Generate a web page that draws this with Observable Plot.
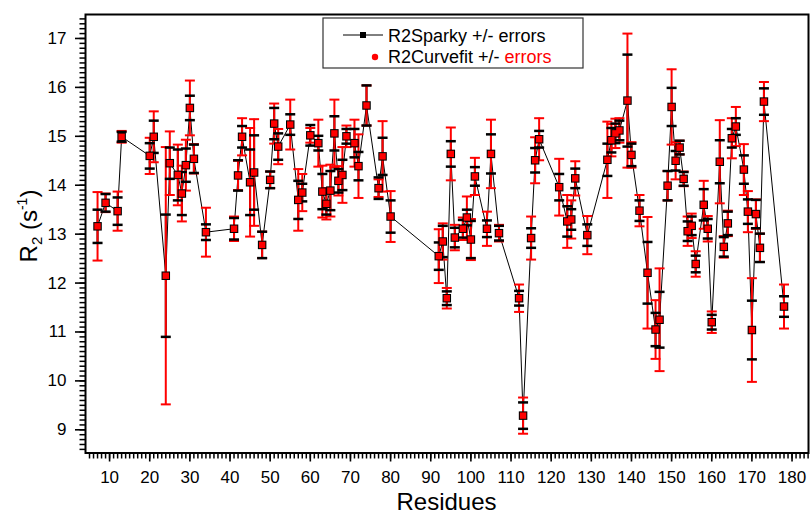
<!DOCTYPE html>
<html>
<head>
<meta charset="utf-8">
<script src="https://cdn.jsdelivr.net/npm/d3@7"></script>
<script src="https://cdn.jsdelivr.net/npm/@observablehq/plot@0.6"></script>
<style>
  html, body { margin: 0; padding: 0; background: #fff; }
  #chart { width: 810px; height: 514px; }
</style>
</head>
<body>
<div id="chart"></div>
<script>
const residues = [7,9,12,13,20,21,24,25,27,28,29,30,31,34,41,42,43,45,46,48,50,51,52,55,57,58,60,62,63,64,65,66,67,68,69,71,72,74,77,78,80,92,93,94,95,96,98,99,100,101,104,105,107,112,113,115,116,117,122,124,125,126,129,134,135,136,137,139,140,142,144,146,147,149,150,151,152,153,154,155,156,158,159,160,162,163,164,165,166,168,169,170,171,172,173,178];

const r2Sparky = [13.16,13.64,13.47,14.99,14.60,14.99,12.15,14.45,14.21,13.83,14.41,15.58,14.54,13.04,13.11,14.20,14.99,14.06,14.26,12.78,14.11,15.26,14.79,15.24,13.70,13.85,15.02,14.86,13.87,13.62,13.89,15.06,14.09,14.21,15.00,14.86,14.39,15.63,13.94,14.59,13.36,12.55,12.85,11.69,14.64,12.93,13.11,13.34,12.89,14.18,13.11,14.64,13.02,11.69,9.29,12.92,14.51,14.94,13.96,13.26,13.30,14.14,12.98,14.52,14.92,15.06,15.12,15.73,14.62,13.48,12.21,11.05,11.25,13.99,15.60,14.50,14.77,14.13,13.06,13.17,12.39,13.60,13.11,11.20,14.48,12.74,13.22,14.96,15.20,14.32,13.46,11.04,13.41,12.72,15.71,11.52];

const errSparky = [0.34,0.18,0.28,0.10,0.26,0.33,1.25,0.32,0.52,0.44,0.34,0.25,0.29,0.16,0.22,0.31,0.22,0.67,0.76,0.27,0.17,0.32,0.27,0.21,0.39,0.18,0.21,0.15,0.36,0.22,0.40,0.35,0.24,0.31,0.15,0.29,0.29,0.41,0.22,0.38,0.33,0.28,0.32,0.14,0.26,0.20,0.18,0.16,0.38,0.19,0.17,0.40,0.15,0.15,0.27,0.20,0.25,0.17,0.27,0.31,0.21,0.20,0.22,0.33,0.25,0.20,0.20,0.94,0.23,0.21,0.63,0.34,0.57,0.30,0.39,0.20,0.14,0.14,0.20,0.19,0.17,0.32,0.20,0.15,0.44,0.20,0.24,0.19,0.17,0.29,0.25,0.60,0.29,0.29,0.27,0.21];

const r2Curvefit = [13.16,13.64,13.47,14.99,14.60,14.99,12.15,14.45,14.21,13.83,14.41,15.58,14.54,13.04,13.11,14.20,14.99,14.06,14.26,12.78,14.11,15.26,14.79,15.24,13.70,13.85,15.02,14.86,13.87,13.62,13.89,15.06,14.09,14.21,15.00,14.86,14.39,15.63,13.94,14.59,13.36,12.55,12.85,11.69,14.64,12.93,13.11,13.34,12.89,14.18,13.11,14.64,13.02,11.69,9.29,12.92,14.51,14.94,13.96,13.26,13.30,14.14,12.98,14.52,14.92,15.06,15.12,15.73,14.62,13.48,12.21,11.05,11.25,13.99,15.60,14.50,14.77,14.13,13.06,13.17,12.39,13.60,13.11,11.20,14.48,12.74,13.22,14.96,15.20,14.32,13.46,11.04,13.41,12.72,15.71,11.52];

const errCurvefit = [0.70,0.19,0.40,0.12,0.37,0.52,2.63,0.65,0.62,0.57,0.52,0.56,0.30,0.50,0.25,0.30,0.38,1.11,1.09,0.27,0.17,0.41,0.36,0.51,0.63,0.38,0.15,0.48,0.53,0.32,0.53,0.69,0.30,0.57,0.22,0.48,0.65,0.41,0.18,0.72,0.52,0.55,0.37,0.21,0.54,0.26,0.23,0.43,0.42,0.38,0.35,0.70,0.17,0.28,0.37,0.44,0.47,0.43,0.58,0.54,0.39,0.35,0.39,0.78,0.33,0.30,0.25,1.37,0.26,0.32,1.14,0.60,1.05,0.30,0.77,0.38,0.14,0.15,0.30,0.25,0.26,0.49,0.26,0.22,0.85,0.22,0.26,0.41,0.40,0.52,0.42,1.06,0.30,0.29,0.40,0.45];

const xTicks = [10,20,30,40,50,60,70,80,90,100,110,120,130,140,150,160,170,180];
const yTicks = [9,10,11,12,13,14,15,16,17];

const xLabel = "Residues";
const legendSparky = "R2Sparky +/- errors";
const legendCurvefitA = "R2Curvefit +/- ";
const legendCurvefitB = "errors";

const data = residues.map((r, i) => ({
  r,
  sp: r2Sparky[i], spErr: errSparky[i],
  cf: r2Curvefit[i], cfErr: errCurvefit[i]
}));

const FONT = "'Liberation Sans', Arial, Helvetica, sans-serif";

const xDomain = [4, 184.1];
const yDomain = [8.526, 17.49];

const capSymbol = {
  draw(context) { context.moveTo(-5, 0); context.lineTo(5, 0); }
};
const yMinorSymbol = {
  draw(context) { context.moveTo(-6, 0); context.lineTo(0, 0); }
};
const xMinorSymbol = {
  draw(context) { context.moveTo(0, 0); context.lineTo(0, 5.5); }
};

const yMinor = d3.range(86, 175).map(v => v / 10);
const xMinor = d3.range(5, 185);

const chart = Plot.plot({
  width: 810,
  height: 514,
  marginLeft: 85,
  marginRight: 2,
  marginTop: 14,
  marginBottom: 61.5,
  x: { domain: xDomain },
  y: { domain: yDomain },
  style: { fontFamily: FONT, fontSize: "17px", color: "black", background: "white" },
  marks: [
    Plot.axisY(yTicks, { tickSize: 10, tickPadding: 9, label: null, strokeWidth: 1.6 }),
    Plot.axisX(xTicks, { tickSize: 9, tickPadding: 9, label: null, strokeWidth: 1.6 }),
    Plot.line(data, { x: "r", y: "sp", stroke: "black", strokeWidth: 1 }),
    Plot.ruleX(data, { x: "r", y1: d => d.sp - d.spErr, y2: d => d.sp + d.spErr, stroke: "black", strokeWidth: 2 }),
    Plot.ruleX(data, { x: "r", y1: d => d.cf - d.cfErr, y2: d => d.cf + d.cfErr, stroke: "#ff0000", strokeWidth: 2 }),
    Plot.dot(data, { x: "r", y: d => d.cf + d.cfErr, symbol: capSymbol, fill: "none", stroke: "#ff0000", strokeWidth: 2 }),
    Plot.dot(data, { x: "r", y: d => d.cf - d.cfErr, symbol: capSymbol, fill: "none", stroke: "#ff0000", strokeWidth: 2 }),
    Plot.dot(data, { x: "r", y: d => d.sp + d.spErr, symbol: capSymbol, fill: "none", stroke: "black", strokeWidth: 2.5 }),
    Plot.dot(data, { x: "r", y: d => d.sp - d.spErr, symbol: capSymbol, fill: "none", stroke: "black", strokeWidth: 2.5 }),
    Plot.dot(data, { x: "r", y: "sp", symbol: "square", r: 4.8, fill: "black", stroke: "none" }),
    Plot.dot(data, { x: "r", y: "cf", symbol: "square", r: 3.6, fill: "#ff0000", stroke: "none" }),
    Plot.frame({ stroke: "black", strokeWidth: 2 }),
    Plot.dot(yMinor, { x: () => xDomain[0], y: d => d, symbol: yMinorSymbol, fill: "none", stroke: "black", strokeWidth: 1.5 }),
    Plot.dot(xMinor, { x: d => d, y: () => yDomain[0], symbol: xMinorSymbol, fill: "none", stroke: "black", strokeWidth: 1.5 })
  ]
});

document.getElementById("chart").appendChild(chart);

const svg = d3.select(chart);

svg.append("text")
  .attr("x", 446.5).attr("y", 510)
  .attr("text-anchor", "middle")
  .attr("font-family", FONT).attr("font-size", 24).attr("fill", "black")
  .text(xLabel);

const yt = svg.append("text")
  .attr("transform", "translate(37,226) rotate(-90)")
  .attr("text-anchor", "middle")
  .attr("font-family", FONT).attr("font-size", 24).attr("fill", "black");
yt.append("tspan").text("R");
yt.append("tspan").attr("font-size", 15).attr("dy", 5).text("2");
yt.append("tspan").attr("dy", -5).text(" (s");
yt.append("tspan").attr("font-size", 14).attr("dy", -10).text("-1");
yt.append("tspan").attr("dy", 10).text(")");

const lg = svg.append("g");
lg.append("rect").attr("x", 323).attr("y", 18).attr("width", 260).attr("height", 50)
  .attr("fill", "white").attr("stroke", "#333").attr("stroke-width", 1.2);
lg.append("line").attr("x1", 343).attr("x2", 383).attr("y1", 35).attr("y2", 35)
  .attr("stroke", "black").attr("stroke-width", 1);
lg.append("rect").attr("x", 360).attr("y", 32).attr("width", 6).attr("height", 6).attr("fill", "black");
lg.append("text").attr("x", 388).attr("y", 41.5).attr("text-anchor", "start")
  .attr("font-family", FONT).attr("font-size", 18).attr("fill", "black")
  .text(legendSparky);
lg.append("circle").attr("cx", 375).attr("cy", 57).attr("r", 3.2).attr("fill", "#ff0000");
const t2 = lg.append("text").attr("x", 388).attr("y", 63).attr("text-anchor", "start")
  .attr("font-family", FONT).attr("font-size", 18).attr("fill", "black");
t2.append("tspan").text(legendCurvefitA);
t2.append("tspan").attr("fill", "#ff0000").text(legendCurvefitB);
</script>
</body>
</html>
